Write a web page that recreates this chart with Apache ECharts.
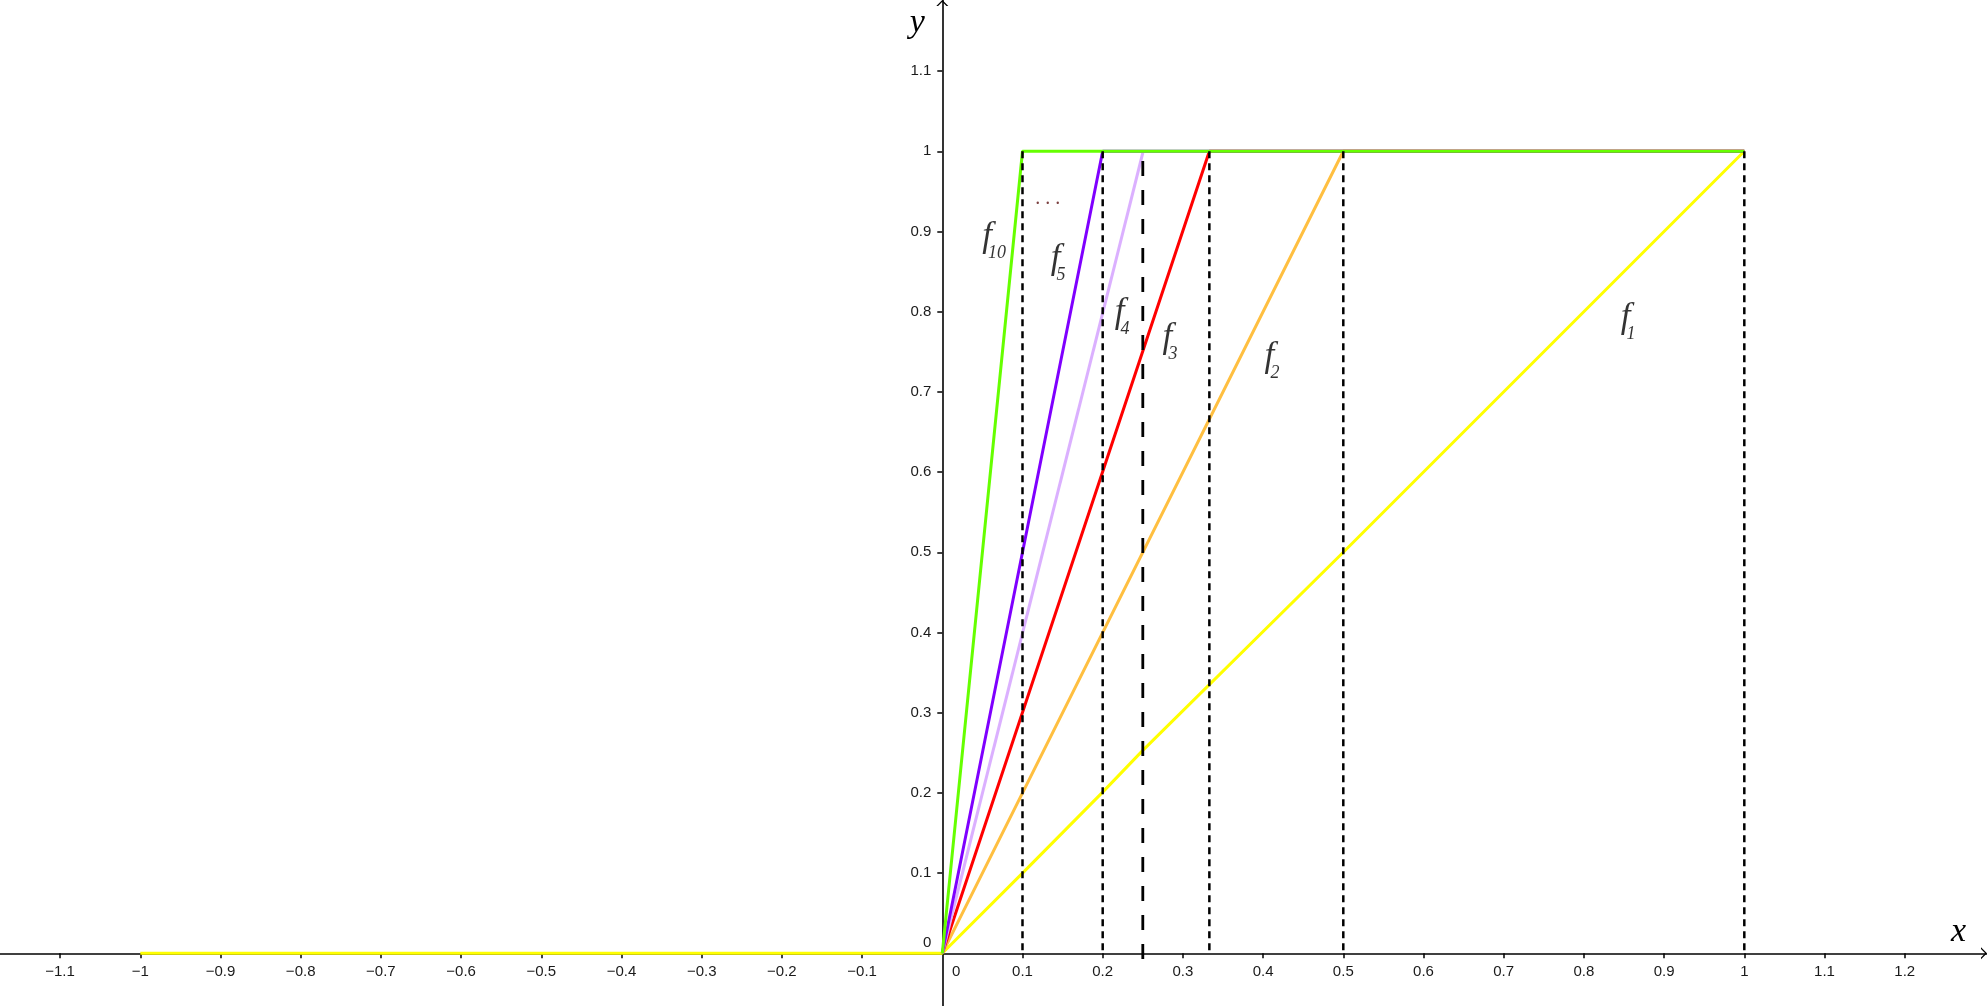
<!DOCTYPE html>
<html>
<head>
<meta charset="utf-8">
<script src="https://cdn.jsdelivr.net/npm/echarts@6/dist/echarts.min.js"></script>
<style>
html,body{margin:0;padding:0;background:#fff;}
#chart{width:1987px;height:1006px;}
</style>
</head>
<body>
<div id="chart"></div>
<script>
// ---- data ----
const xTicks = [-1.1,-1,-0.9,-0.8,-0.7,-0.6,-0.5,-0.4,-0.3,-0.2,-0.1,0.1,0.2,0.3,0.4,0.5,0.6,0.7,0.8,0.9,1,1.1,1.2];
const xLabels = [-1.1,-1,-0.9,-0.8,-0.7,-0.6,-0.5,-0.4,-0.3,-0.2,-0.1,0,0.1,0.2,0.3,0.4,0.5,0.6,0.7,0.8,0.9,1,1.1,1.2];
const yTicks = [0.1,0.2,0.3,0.4,0.5,0.6,0.7,0.8,0.9,1,1.1];
const yLabels = [0,0.1,0.2,0.3,0.4,0.5,0.6,0.7,0.8,0.9,1,1.1];

const f1 = [[-1,0],[0,0],[0.1,0.1],[0.2,0.201],[0.25,0.253],[0.5,0.5],[1,1]];
const f2 = [[0,0],[0.5,1],[1,1]];
const f3 = [[0,0],[0.333,1],[1,1]];
const f4 = [[0,0],[0.25,0.998]];
const f5 = [[0,0],[0.2,1],[1,1]];
const f10 = [[0,0],[0.1,1],[1,1]];

const dashX = [0.1,0.2,0.333,0.5,1];
const dashTop = 1;
const quarterX = 0.25;
const quarterRange = [-0.007, 0.995];

const labelNames = ['10','5','4','3','2','1'];
const labelX = [0.0595,0.1449,0.2247,0.2845,0.4117,0.8556];
const labelY = [0.8938,0.8663,0.799,0.7678,0.7441,0.7928];
const dotsPos = [0.1315,0.928];

// ---- styles / layout ----
const W = 1987, H = 1006;
const xMin = -1.1749, xMax = 1.3026, yMin = -0.0657, yMax = 1.1886;
const x0px = (0 - xMin) / (xMax - xMin) * W;     // pixel of x = 0
const y0px = (yMax - 0) / (yMax - yMin) * H;     // pixel of y = 0
const colors = {f1:'#ffff00', f2:'#ffbf40', f3:'#ff0000', f4:'#dbb0ff', f5:'#7f00ff', f10:'#66ff00'};
const tickFont = {fontFamily:'Liberation Sans, Arial, sans-serif', fontSize:15, color:'#1a1a1a'};
const arrow = 'path://M0,10 L10,0 L20,10 L17,10 L10,3 L3,10 Z';

const chart = echarts.init(document.getElementById('chart'), null, {renderer:'canvas'});

function fmt(v){ return v < 0 ? '\u2212' + (-v) : String(v); }

const fSeries = [
  ['f1', f1], ['f2', f2], ['f3', f3], ['f4', f4], ['f5', f5], ['f10', f10]
].map(([k, d], i) => ({
  type:'line', name:k, data:d, showSymbol:false, silent:true,
  lineStyle:{color:colors[k], width:3}, z: 3 + i
}));

const dashSeries = dashX.map(x => ({
  type:'line', data:[[x, dashTop],[x, 0]], showSymbol:false, silent:true,
  lineStyle:{color:'#000', width:2.5, type:[7,5]}, z:10
}));
dashSeries.push({
  type:'line', data:[[quarterX, quarterRange[0]],[quarterX, quarterRange[1]]], showSymbol:false, silent:true,
  lineStyle:{color:'#000', width:2.8, type:[15,14]}, z:10
});

const labelData = labelNames.map((n, i) => ({name:n, value:[labelX[i], labelY[i]]}));

const option = {
  animation:false,
  backgroundColor:'#fff',
  grid:{left:0, right:0, top:0, bottom:0, containLabel:false, outerBoundsMode:'none'},
  xAxis:{
    type:'value', min:xMin, max:xMax, position:'bottom', offset:-(H - y0px),
    name:'x', nameLocation:'end', nameGap:-36,
    nameTextStyle:{fontFamily:'Liberation Serif, serif', fontStyle:'italic', fontSize:34, color:'#000', verticalAlign:'bottom', lineHeight:42},
    axisLine:{onZero:false, lineStyle:{color:'#000', width:1.6}, symbol:['none', arrow], symbolSize:[12,6], symbolOffset:[0,-3]},
    axisTick:{show:true, customValues:xTicks, length:5, inside:false, lineStyle:{color:'#000', width:1.5}},
    axisLabel:{customValues:xLabels, margin:11, ...tickFont, formatter:v => v === 0 ? '{z|0}' : fmt(v),
      rich:{z:{...tickFont, padding:[0,0,0,28]}}},
    splitLine:{show:false}
  },
  yAxis:{
    type:'value', min:yMin, max:yMax, position:'left', offset:-x0px,
    name:'y', nameLocation:'end', nameGap:-40,
    nameTextStyle:{fontFamily:'Liberation Serif, serif', fontStyle:'italic', fontSize:34, color:'#000', padding:[0,50,0,0]},
    axisLine:{onZero:false, lineStyle:{color:'#000', width:1.6}, symbol:['none', arrow], symbolSize:[12,6], symbolOffset:[0,-3]},
    axisTick:{show:true, customValues:yTicks, length:5, inside:false, lineStyle:{color:'#000', width:1.5}},
    axisLabel:{customValues:yLabels, margin:11, ...tickFont, formatter:v => v === 0 ? '{z|0}' : fmt(v),
      rich:{z:{...tickFont, padding:[0,0,20,0]}}},
    splitLine:{show:false}
  },
  series:[
    ...fSeries,
    ...dashSeries,
    {
      type:'scatter', data:labelData, symbolSize:0, silent:true, z:20,
      label:{show:true, position:'inside', formatter:'f', fontFamily:'Liberation Serif, serif', fontStyle:'italic',
        fontSize:35, color:'#000', align:'center', verticalAlign:'middle', offset:[-3,0]}
    },
    {
      type:'scatter', data:labelData, symbolSize:0, silent:true, z:20,
      label:{show:true, position:'inside', formatter:'{b}', fontFamily:'Liberation Serif, serif', fontStyle:'italic',
        fontSize:18, color:'#000', align:'left', verticalAlign:'middle', offset:[-2,17]}
    },
    {
      type:'scatter', data:[dotsPos], symbolSize:0, silent:true, z:20,
      label:{show:true, position:'inside', formatter:'. . .', fontFamily:'Liberation Serif, serif',
        fontSize:20, color:'#5a1010', align:'center', verticalAlign:'bottom'}
    }
  ]
};
chart.setOption(option);
</script>
</body>
</html>
